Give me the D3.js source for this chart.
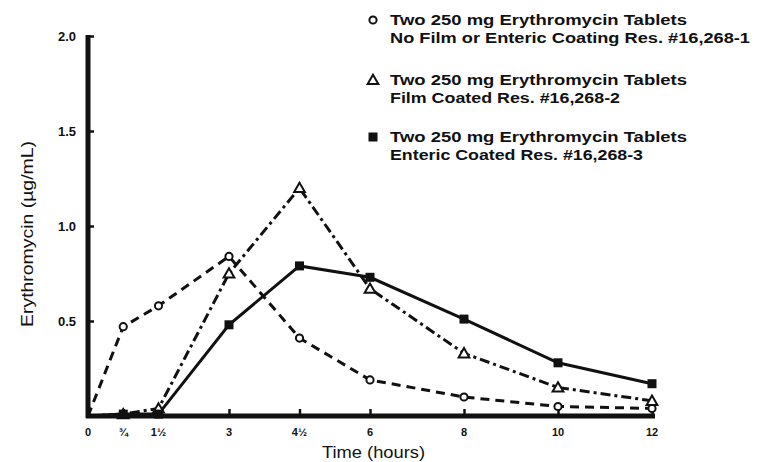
<!DOCTYPE html>
<html>
<head>
<meta charset="utf-8">
<script src="https://cdn.jsdelivr.net/npm/d3@7"></script>
<style>
  body { margin: 0; background: #fff; }
  svg { display: block; }
  .tick-label { font-family: "Liberation Sans", Arial, sans-serif; font-weight: bold; fill: #111; }
  .legend-text { font-family: "Liberation Sans", Arial, sans-serif; font-weight: bold; font-size: 14px; fill: #111; }
  .axis-title { font-family: "Liberation Sans", Arial, sans-serif; font-size: 16px; fill: #111; }
</style>
</head>
<body>
<svg id="chart" width="757" height="462"></svg>
<script>
// ----------------------------------------------------------------------------------------------------------------------
// DATA -----------------------------------------------------------------------------------------------------------------
// ----------------------------------------------------------------------------------------------------------------------

// Sampling times (hours) and their printed labels
var times = [0, 0.75, 1.5, 3, 4.5, 6, 8, 10, 12];
var timeLabels = ["0", "¾", "1½", "3", "4½", "6", "8", "10", "12"];

// Serum erythromycin (µg/mL) per formulation
var uncoated = [0, 0.47, 0.58, 0.84, 0.41, 0.19, 0.10, 0.05, 0.04];
var filmCoated = [0, 0.01, 0.04, 0.75, 1.20, 0.67, 0.33, 0.15, 0.08];
var entericCoated = [0, 0.01, 0.01, 0.48, 0.79, 0.73, 0.51, 0.28, 0.17];

// Y axis ticks
var yTicks = [0.5, 1.0, 1.5, 2.0];

// Legend text, two lines per series
var legendLines = [
  ["Two 250 mg Erythromycin Tablets", "No Film or Enteric Coating Res. #16,268-1"],
  ["Two 250 mg Erythromycin Tablets", "Film Coated Res. #16,268-2"],
  ["Two 250 mg Erythromycin Tablets", "Enteric Coated Res. #16,268-3"]
];

// ----------------------------------------------------------------------------------------------------------------------
// SCALES ---------------------------------------------------------------------------------------------------------------
// ----------------------------------------------------------------------------------------------------------------------
var svg = d3.select("#chart");

var x = d3.scaleLinear().domain([0, 12]).range([88, 652]);
var y = d3.scaleLinear().domain([0, 2]).range([416, 36]);

// Series setup (style only)
var series = [
  { values: uncoated, dash: "9,6", marker: "circle" },
  { values: filmCoated, dash: "10,4,3,4", marker: "triangle" },
  { values: entericCoated, dash: null, marker: "square" }
];

// ----------------------------------------------------------------------------------------------------------------------
// AXES -----------------------------------------------------------------------------------------------------------------
// ----------------------------------------------------------------------------------------------------------------------

// Y axis: heavy line, short ticks pointing right
var yAxis = svg.append("g")
  .attr("transform", "translate(" + x(0) + ",0)")
  .call(d3.axisRight(y).tickValues(yTicks).tickSize(6).tickFormat(""));
yAxis.select(".domain").remove();
yAxis.selectAll(".tick line").attr("stroke", "#111").attr("stroke-width", 2.5);

svg.append("line")
  .attr("x1", x(0)).attr("x2", x(0))
  .attr("y1", y(0) + 2).attr("y2", y(2) - 1)
  .attr("stroke", "#111").attr("stroke-width", 5);

svg.selectAll(".y-label")
  .data(yTicks)
  .enter().append("text")
  .attr("class", "tick-label")
  .attr("x", x(0) - 12)
  .attr("y", function(d) { return y(d) + 5; })
  .attr("text-anchor", "end")
  .style("font-size", "13px")
  .text(function(d) { return d.toFixed(1); });

// X axis: heavy line, ticks pointing up
var xAxis = svg.append("g")
  .attr("transform", "translate(0," + y(0) + ")")
  .call(d3.axisTop(x).tickValues(times.slice(1)).tickSize(7).tickFormat(""));
xAxis.select(".domain").remove();
xAxis.selectAll(".tick line").attr("stroke", "#111").attr("stroke-width", 2.5);

svg.append("line")
  .attr("x1", x(0) - 2).attr("x2", x(12) + 3)
  .attr("y1", y(0)).attr("y2", y(0))
  .attr("stroke", "#111").attr("stroke-width", 5);

svg.selectAll(".x-label")
  .data(times)
  .enter().append("text")
  .attr("class", "tick-label")
  .attr("x", function(d) { return x(d); })
  .attr("y", y(0) + 20)
  .attr("text-anchor", "middle")
  .style("font-size", "11px")
  .text(function(d, i) { return timeLabels[i]; });

// Axis titles
svg.append("text")
  .attr("class", "axis-title")
  .attr("x", 322)
  .attr("y", 458)
  .attr("textLength", 103)
  .attr("lengthAdjust", "spacingAndGlyphs")
  .text("Time (hours)");

svg.append("text")
  .attr("class", "axis-title")
  .attr("transform", "translate(33,327) rotate(-90)")
  .attr("textLength", 186)
  .attr("lengthAdjust", "spacingAndGlyphs")
  .text("Erythromycin (µg/mL)");

// ----------------------------------------------------------------------------------------------------------------------
// LINES & MARKERS ------------------------------------------------------------------------------------------------------
// ----------------------------------------------------------------------------------------------------------------------
var line = d3.line()
  .x(function(d, i) { return x(times[i]); })
  .y(function(d) { return y(d); });

var triangle = d3.symbol().type(d3.symbolTriangle).size(50);

function drawMarker(g, type, cx, cy) {
  if (type == "circle") {
    g.append("circle").attr("cx", cx).attr("cy", cy).attr("r", 3.6)
      .attr("fill", "#fff").attr("stroke", "#111").attr("stroke-width", 2);
  } else if (type == "triangle") {
    g.append("path").attr("d", triangle)
      .attr("transform", "translate(" + cx + "," + (cy + 1) + ")")
      .attr("fill", "#fff").attr("stroke", "#111").attr("stroke-width", 2);
  } else {
    g.append("rect").attr("x", cx - 4.5).attr("y", cy - 4.5)
      .attr("width", 9).attr("height", 9).attr("fill", "#111");
  }
}

series.forEach(function(s) {
  svg.append("path")
    .datum(s.values)
    .attr("d", line)
    .attr("fill", "none")
    .attr("stroke", "#111")
    .attr("stroke-width", 3)
    .attr("stroke-dasharray", s.dash);
});

series.forEach(function(s) {
  var g = svg.append("g");
  s.values.forEach(function(v, i) {
    if (i == 0) return;
    drawMarker(g, s.marker, x(times[i]), y(v));
  });
});

// ----------------------------------------------------------------------------------------------------------------------
// LEGEND ---------------------------------------------------------------------------------------------------------------
// ----------------------------------------------------------------------------------------------------------------------
var legendTop = [20, 80, 137];
// printed widths of each legend line in the original
var legendWidths = [[297, 360], [297, 230], [297, 253]];

series.forEach(function(s, i) {
  var g = svg.append("g");
  drawMarker(g, s.marker, 373, legendTop[i]);
  legendLines[i].forEach(function(t, j) {
    g.append("text")
      .attr("class", "legend-text")
      .attr("x", 390)
      .attr("y", legendTop[i] + 5 + j * 18)
      .attr("textLength", legendWidths[i][j])
      .attr("lengthAdjust", "spacingAndGlyphs")
      .text(t);
  });
});
</script>
</body>
</html>
